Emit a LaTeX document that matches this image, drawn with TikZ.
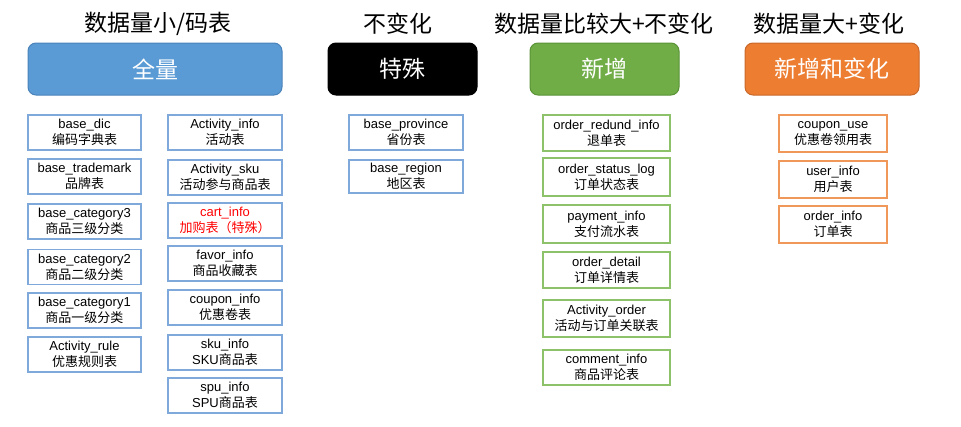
\documentclass[tikz,border=0pt]{standalone}
\usepackage{fontspec}
\setmainfont{Liberation Sans}
\newfontfamily\cjk{Noto Sans CJK SC}
\definecolor{bigblue}{HTML}{5B9BD5}
\definecolor{bigblueb}{HTML}{4A82BA}
\definecolor{biggreen}{HTML}{70AD47}
\definecolor{biggreenb}{HTML}{5A9236}
\definecolor{bigorange}{HTML}{ED7D31}
\definecolor{bigorangeb}{HTML}{C8682A}
\definecolor{smblue}{HTML}{7FA9DB}
\definecolor{smgreen}{HTML}{8DC26A}
\definecolor{smorange}{HTML}{F0985A}
\tikzset{
  hdr/.style={font=\cjk\fontsize{23}{26}\selectfont, inner sep=0pt},
  bigbox/.style={rounded corners=8pt, line width=1pt, minimum height=52pt, inner sep=0pt,
    text=white, font=\cjk\fontsize{23}{26}\selectfont},
  tbl/.style={draw, line width=1.5pt, inner sep=0pt, align=center,
    font=\fontsize{13}{16}\selectfont, minimum height=35pt},
  tblue/.style={tbl, draw=smblue, minimum width=113pt},
  tgreen/.style={tbl, draw=smgreen, minimum width=127pt, minimum height=37pt},
  torange/.style={tbl, draw=smorange, minimum width=108pt, minimum height=37pt},
}
\begin{document}
\begin{tikzpicture}[x=1pt,y=-1pt]
\useasboundingbox (0,0) rectangle (961,426);
% headers
\node[hdr] (h1) at (158,24) {数据量小/码表};
\node[hdr] (h2) at (398,24) {不变化};
\node[hdr] (h3) at (604,24) {数据量比较大+不变化};
\node[hdr] (h4) at (829,24) {数据量大+变化};
% big boxes
\node[bigbox, fill=bigblue, draw=bigblueb, minimum width=254pt] (b1) at (155,69) {全量};
\node[bigbox, fill=black, draw=black, minimum width=149pt] (b2) at (402.5,69) {特殊};
\node[bigbox, fill=biggreen, draw=biggreenb, minimum width=149pt] (b3) at (604.5,69) {新增};
\node[bigbox, fill=bigorange, draw=bigorangeb, minimum width=174pt] (b4) at (832,69) {新增和变化};
% column 1
\node[tblue] (c11) at (84.5,132.5) {base\_dic\\{\cjk 编码字典表}};
\node[tblue] (c12) at (84.5,176.5) {base\_trademark\\{\cjk 品牌表}};
\node[tblue] (c13) at (84.5,221.5) {base\_category3\\{\cjk 商品三级分类}};
\node[tblue] (c14) at (84.5,267) {base\_category2\\{\cjk 商品二级分类}};
\node[tblue] (c15) at (84.5,310.5) {base\_category1\\{\cjk 商品一级分类}};
\node[tblue] (c16) at (84.5,354.5) {Activity\_rule\\{\cjk 优惠规则表}};
% column 2
\node[tblue, minimum width=114pt] (c21) at (225,132.5) {Activity\_info\\{\cjk 活动表}};
\node[tblue, minimum width=114pt] (c22) at (225,177.5) {Activity\_sku\\{\cjk 活动参与商品表}};
\node[tblue, minimum width=114pt, text=red] (c23) at (225,220.5) {cart\_info\\{\cjk 加购表（特殊）}};
\node[tblue, minimum width=114pt] (c24) at (225,263.5) {favor\_info\\{\cjk 商品收藏表}};
\node[tblue, minimum width=114pt] (c25) at (225,307.5) {coupon\_info\\{\cjk 优惠卷表}};
\node[tblue, minimum width=114pt] (c26) at (225,352.5) {sku\_info\\SKU{\cjk 商品表}};
\node[tblue, minimum width=114pt] (c27) at (225,395.5) {spu\_info\\SPU{\cjk 商品表}};
% column 3
\node[tblue, minimum width=114pt] (c31) at (406,132.5) {base\_province\\{\cjk 省份表}};
\node[tblue, minimum width=114pt, minimum height=33pt] (c32) at (406,176.5) {base\_region\\{\cjk 地区表}};
% column 4
\node[tgreen, minimum height=36pt] (c41) at (606.5,133) {order\_redund\_info\\{\cjk 退单表}};
\node[tgreen, minimum height=38pt] (c42) at (606.5,177) {order\_status\_log\\{\cjk 订单状态表}};
\node[tgreen, minimum height=38pt] (c43) at (606.5,224) {payment\_info\\{\cjk 支付流水表}};
\node[tgreen, minimum height=36pt] (c44) at (606.5,270) {order\_detail\\{\cjk 订单详情表}};
\node[tgreen] (c45) at (606.5,318.5) {Activity\_order\\{\cjk 活动与订单关联表}};
\node[tgreen, minimum height=35pt] (c46) at (606.5,367.5) {comment\_info\\{\cjk 商品评论表}};
% column 5
\node[torange] (c51) at (833,133.5) {coupon\_use\\{\cjk 优惠卷领用表}};
\node[torange] (c52) at (833,179.5) {user\_info\\{\cjk 用户表}};
\node[torange] (c53) at (833,224.5) {order\_info\\{\cjk 订单表}};
\end{tikzpicture}
\end{document}
